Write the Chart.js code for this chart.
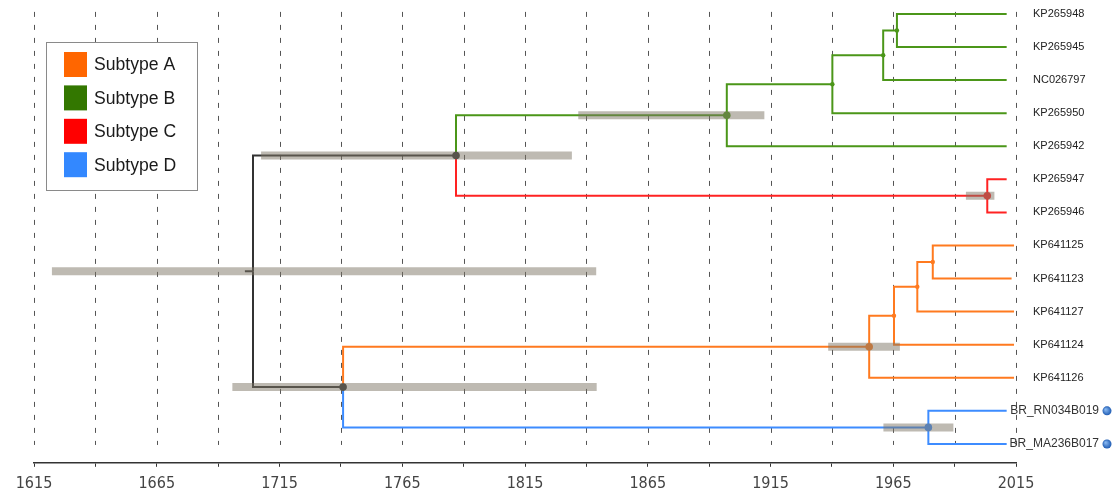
<!DOCTYPE html>
<html>
<head>
<meta charset="utf-8">
<script src="https://cdn.jsdelivr.net/npm/chart.js@4.4.1/dist/chart.umd.min.js"></script>
<style>
  html, body { margin: 0; padding: 0; background: #fff; }
  #treeChart { display: block; }
</style>
</head>
<body>
<canvas id="treeChart" width="1118" height="493"></canvas>
<script>
// tips, top to bottom (node index 0..13)
var leafNames = ['KP265948', 'KP265945', 'NC026797', 'KP265950', 'KP265942', 'KP265947', 'KP265946',
    'KP641125', 'KP641123', 'KP641127', 'KP641124', 'KP641126', 'BR_RN034B019', 'BR_MA236B017'];
var leafDates = [2011.2, 2011.2, 2011.2, 2011.2, 2011.2, 2011.2, 2011.2,
    2014.2, 2013.2, 2014.2, 2014.2, 2014.2, 2011.2, 2011.2];
var leafSubtypes = ['B', 'B', 'B', 'B', 'B', 'C', 'C', 'A', 'A', 'A', 'A', 'A', 'D', 'D'];
var leafMarked = [false, false, false, false, false, false, false, false, false, false, false, false, true, true];

// internal nodes (node index 14..26), children point to node indices
var nodeChildren = [[0, 1], [14, 2], [15, 3], [16, 4], [5, 6], [17, 18],
    [7, 8], [20, 9], [21, 10], [22, 11], [12, 13], [23, 24], [19, 25]];
var nodeDates = [1966.5, 1960.9, 1940.2, 1897.2, 2003.3, 1786.9,
    1981.1, 1974.8, 1965.3, 1955.2, 1979.3, 1740.9, 1704.2];
var nodeSubtypes = ['B', 'B', 'B', 'B', 'C', null, 'A', 'A', 'A', 'A', 'D', null, null];
// 95% HPD of node heights
var ciLow = [null, null, null, 1836.7, 1994.6, 1707.5, null, null, null, 1938.5, 1961.0, 1695.8, 1622.3];
var ciHigh = [null, null, null, 1912.5, 2006.2, 1834.1, null, null, null, 1967.7, 1989.5, 1844.2, 1844.0];
var rootStubDate = 1700.9;

var subtypes = ['A', 'B', 'C', 'D'];
var subtypeLabels = ['Subtype A', 'Subtype B', 'Subtype C', 'Subtype D'];
var yearLabels = [1615, 1665, 1715, 1765, 1815, 1865, 1915, 1965, 2015];

var lineColors = { A: '#ff7a1f', B: '#4b9619', C: '#ff2222', D: '#3d8cff' };
var swatchColors = { A: '#ff6600', B: '#337700', C: '#ff0000', D: '#3388ff' };
var stemColor = '#333333';
var barColor = 'rgba(125,117,101,0.5)';

function colorOf(sub) {
    return sub ? lineColors[sub] : stemColor;
}

// tree layout: y of a node is the middle of its children
var nLeaves = leafNames.length;
var allDates = leafDates.concat(nodeDates);
var allSubs = leafSubtypes.concat(nodeSubtypes);
var yPos = [];
var parentOf = [];
for (var i = 0; i < nLeaves; i++) {
    yPos.push(i);
}
for (var j = 0; j < nodeChildren.length; j++) {
    var kids = nodeChildren[j];
    yPos.push((yPos[kids[0]] + yPos[kids[1]]) / 2);
    parentOf[kids[0]] = nLeaves + j;
    parentOf[kids[1]] = nLeaves + j;
}
var rootIndex = nLeaves + nodeChildren.length - 1;

var datasets = [];

// grey HPD bars on top
for (var j = 0; j < nodeChildren.length; j++) {
    if (ciLow[j] == null) continue;
    var n = nLeaves + j;
    datasets.push({
        data: [{ x: ciLow[j], y: yPos[n] }, { x: ciHigh[j], y: yPos[n] }],
        showLine: true,
        borderColor: barColor,
        borderWidth: 8,
        borderCapStyle: 'butt',
        pointRadius: 0,
        order: 0
    });
}

// node dots
var dotData = [], dotRadius = [], dotColors = [];
for (var j = 0; j < nodeChildren.length; j++) {
    var n = nLeaves + j;
    if (n == rootIndex) continue;
    dotData.push({ x: allDates[n], y: yPos[n] });
    dotRadius.push(ciLow[j] != null ? 3.8 : 2.2);
    dotColors.push(colorOf(allSubs[n]));
}
datasets.push({
    data: dotData,
    showLine: false,
    pointRadius: dotRadius,
    pointBackgroundColor: dotColors,
    pointBorderWidth: 0,
    order: 1
});

// branches: vertical at the parent, then across to the child
for (var n = 0; n < allDates.length; n++) {
    var pts;
    if (n == rootIndex) {
        pts = [{ x: rootStubDate, y: yPos[n] }, { x: allDates[n], y: yPos[n] }];
    } else {
        var p = parentOf[n];
        pts = [{ x: allDates[p], y: yPos[p] }, { x: allDates[p], y: yPos[n] }, { x: allDates[n], y: yPos[n] }];
    }
    datasets.push({
        data: pts,
        showLine: true,
        borderColor: colorOf(allSubs[n]),
        borderWidth: 2,
        borderJoinStyle: 'miter',
        borderCapStyle: 'butt',
        tension: 0,
        pointRadius: 0,
        order: 2
    });
}

var dashedGrid = {
    id: 'dashedGrid',
    beforeDatasetsDraw: function (chart) {
        var ctx = chart.ctx;
        var xScale = chart.scales.x, yScale = chart.scales.y;
        var top = yScale.getPixelForValue(0) - 2;
        var bottom = yScale.getPixelForValue(nLeaves - 1) + 1;
        ctx.save();
        ctx.strokeStyle = '#555';
        ctx.lineWidth = 1;
        ctx.setLineDash([5, 8]);
        xScale.ticks.forEach(function (t) {
            var x = Math.round(xScale.getPixelForValue(t.value)) + 0.5;
            ctx.beginPath();
            ctx.moveTo(x, top);
            ctx.lineTo(x, bottom);
            ctx.stroke();
        });
        ctx.restore();
    }
};

var tipsAndLegend = {
    id: 'tipsAndLegend',
    afterDatasetsDraw: function (chart) {
        var ctx = chart.ctx, area = chart.chartArea, yScale = chart.scales.y;
        ctx.save();
        ctx.textBaseline = 'middle';
        for (var i = 0; i < nLeaves; i++) {
            var y = yScale.getPixelForValue(i);
            if (leafMarked[i]) {
                ctx.font = '12px "Liberation Sans", Arial, sans-serif';
                ctx.fillStyle = '#333';
                ctx.textAlign = 'right';
                ctx.fillText(leafNames[i], area.right + 83, y);
                var cx = area.right + 91;
                var grad = ctx.createRadialGradient(cx - 1.5, y - 1.5, 0.5, cx, y, 4.5);
                grad.addColorStop(0, '#86b6f0');
                grad.addColorStop(1, '#1f5cb3');
                ctx.fillStyle = grad;
                ctx.beginPath();
                ctx.arc(cx, y, 4.5, 0, 2 * Math.PI);
                ctx.fill();
            } else {
                ctx.font = '11px "Liberation Sans", Arial, sans-serif';
                ctx.fillStyle = '#222';
                ctx.textAlign = 'left';
                ctx.fillText(leafNames[i], area.right + 17, y);
            }
        }

        // legend box
        var lx = area.left + 12, ly = area.top + 42;
        ctx.fillStyle = '#fff';
        ctx.fillRect(lx, ly, 152, 149);
        ctx.strokeStyle = '#8a8a8a';
        ctx.lineWidth = 1;
        ctx.strokeRect(lx + 0.5, ly + 0.5, 151, 148);
        ctx.font = '17.6px "Liberation Sans", Arial, sans-serif';
        ctx.textAlign = 'left';
        for (var k = 0; k < subtypes.length; k++) {
            var sy = ly + 22.5 + k * 33.4;
            ctx.fillStyle = swatchColors[subtypes[k]];
            ctx.fillRect(lx + 18, sy - 12.5, 23, 25);
            ctx.fillStyle = '#1a1a1a';
            ctx.fillText(subtypeLabels[k], lx + 48, sy + 1);
        }
        ctx.restore();
    }
};

new Chart("treeChart", {
    type: 'scatter',
    data: { datasets: datasets },
    options: {
        responsive: false,
        animation: false,
        layout: {
            autoPadding: false,
            padding: { left: 34, right: 102, top: 0, bottom: -7 }
        },
        plugins: {
            legend: { display: false },
            tooltip: { enabled: false }
        },
        scales: {
            x: {
                type: 'linear',
                min: 1615,
                max: 2015,
                ticks: {
                    stepSize: 25,
                    autoSkip: false,
                    maxRotation: 0,
                    padding: 7,
                    color: '#444',
                    font: { family: '"DejaVu Sans Condensed", "DejaVu Sans", sans-serif', size: 16 },
                    callback: function (v) {
                        return yearLabels.indexOf(v) >= 0 ? String(v) : '';
                    }
                },
                grid: {
                    drawOnChartArea: false,
                    drawTicks: true,
                    tickLength: 4,
                    color: '#333'
                },
                border: { display: true, color: '#333', width: 1.5 }
            },
            y: {
                type: 'linear',
                min: -0.42,
                max: 13.57,
                reverse: true,
                display: false
            }
        }
    },
    plugins: [dashedGrid, tipsAndLegend]
});
</script>
</body>
</html>
